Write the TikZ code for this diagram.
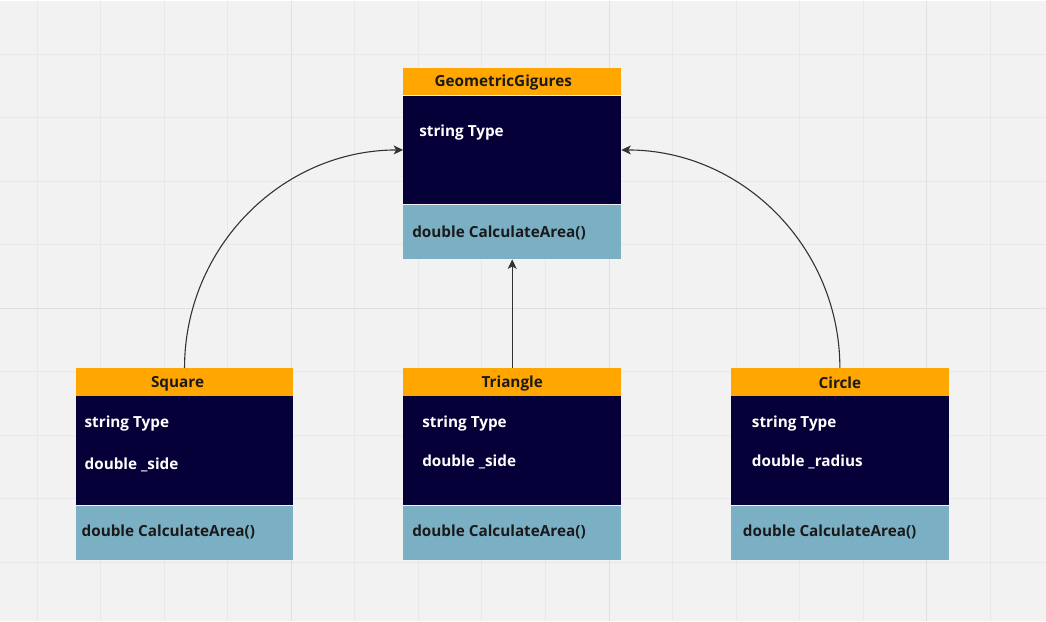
\documentclass[tikz,border=0pt]{standalone}
\usepackage{fontspec}
\setmainfont{Open Sans}
\usetikzlibrary{calc, arrows.meta}

\definecolor{bgcol}{HTML}{F2F2F2}
\definecolor{gridcol}{HTML}{E8E8E8}
\definecolor{majorcol}{HTML}{E0E0E0}
\definecolor{headcol}{HTML}{FFA600}
\definecolor{bodycol}{HTML}{050038}
\definecolor{opscol}{HTML}{7BAFC4}
\definecolor{linecol}{HTML}{333333}
\definecolor{inkcol}{HTML}{1A1A1A}

\begin{document}
\begin{tikzpicture}[x=1pt, y=-1pt]

    \tikzstyle{part}=[rectangle, inner sep=0pt, minimum width=218pt, anchor=north west];
    \tikzstyle{head}=[part, fill=headcol, minimum height=27.5pt];
    \tikzstyle{body}=[part, fill=bodycol, minimum height=109pt];
    \tikzstyle{ops}=[part, fill=opscol, minimum height=54.5pt];
    \tikzstyle{label}=[inner sep=0pt, font=\bfseries\fontsize{15.3}{17}\selectfont];
    \tikzstyle{title}=[label, anchor=base, text=inkcol];
    \tikzstyle{field}=[label, anchor=base west, text=white];
    \tikzstyle{method}=[label, anchor=base west, text=inkcol];
    \tikzstyle{link}=[linecol, line width=1.1pt, -{Stealth[length=9.5pt, width=9pt, inset=2.5pt]}];

    % background and grid
    \fill[bgcol] (0,0) rectangle (1046,621);
    \foreach \i in {0,...,15}
        \draw[gridcol, line width=1pt] ({36.7+63.6*\i},0) -- ({36.7+63.6*\i},621);
    \foreach \i in {0,...,8}
        \draw[gridcol, line width=1pt] (0,{53.7+63.6*\i}) -- (1046,{53.7+63.6*\i});
    \foreach \i in {4,9,14}
        \draw[majorcol, line width=1pt] ({36.7+63.6*\i},0) -- ({36.7+63.6*\i},621);
    \draw[majorcol, line width=1pt] (0,308.1) -- (1046,308.1);

    % GeometricGigures
    \node[head] (g-head) at (403,67) {};
    \node[body] (g-body) at (g-head.south west) {};
    \node[ops]  (g-ops)  at (g-body.south west) {};
    \node[title]  (g-name)  at ($(g-head.center)+(-9,5.5)$) {GeometricGigures};
    \node[field]  (g-type)  at ($(g-body.north west)+(16,41.5)$) {string Type};
    \node[method] (g-area)  at ($(g-ops.north west)+(9,32.5)$) {double CalculateArea()};

    % Square
    \node[head] (s-head) at (75,368) {};
    \node[body] (s-body) at (s-head.south west) {};
    \node[ops]  (s-ops)  at (s-body.south west) {};
    \node[title]  (s-name)  at ($(s-head.center)+(-7,5.5)$) {Square};
    \node[field]  (s-type)  at ($(s-body.north west)+(9,32)$) {string Type};
    \node[field]  (s-side)  at ($(s-body.north west)+(9,74)$) {double \_side};
    \node[method] (s-area)  at ($(s-ops.north west)+(6,31.5)$) {double CalculateArea()};

    % Triangle
    \node[head] (t-head) at (403,368) {};
    \node[body] (t-body) at (t-head.south west) {};
    \node[ops]  (t-ops)  at (t-body.south west) {};
    \node[title]  (t-name)  at ($(t-head.center)+(0,5.5)$) {Triangle};
    \node[field]  (t-type)  at ($(t-body.north west)+(19,32)$) {string Type};
    \node[field]  (t-side)  at ($(t-body.north west)+(19,71)$) {double \_side};
    \node[method] (t-area)  at ($(t-ops.north west)+(9,31.5)$) {double CalculateArea()};

    % Circle
    \node[head] (c-head) at (731,368) {};
    \node[body] (c-body) at (c-head.south west) {};
    \node[ops]  (c-ops)  at (c-body.south west) {};
    \node[title]  (c-name)  at ($(c-head.center)+(0,6.5)$) {Circle};
    \node[field]  (c-type)  at ($(c-body.north west)+(21,32)$) {string Type};
    \node[field]  (c-rad)   at ($(c-body.north west)+(21,71)$) {double \_radius};
    \node[method] (c-area)  at ($(c-ops.north west)+(12,31.5)$) {double CalculateArea()};

    % inheritance
    \draw (s-head.north) edge[out=90, in=180, link] (g-body.west);
    \draw (t-head.north) edge[link] (g-ops.south);
    \draw (c-head.north) edge[out=90, in=0, link] (g-body.east);

\end{tikzpicture}
\end{document}
